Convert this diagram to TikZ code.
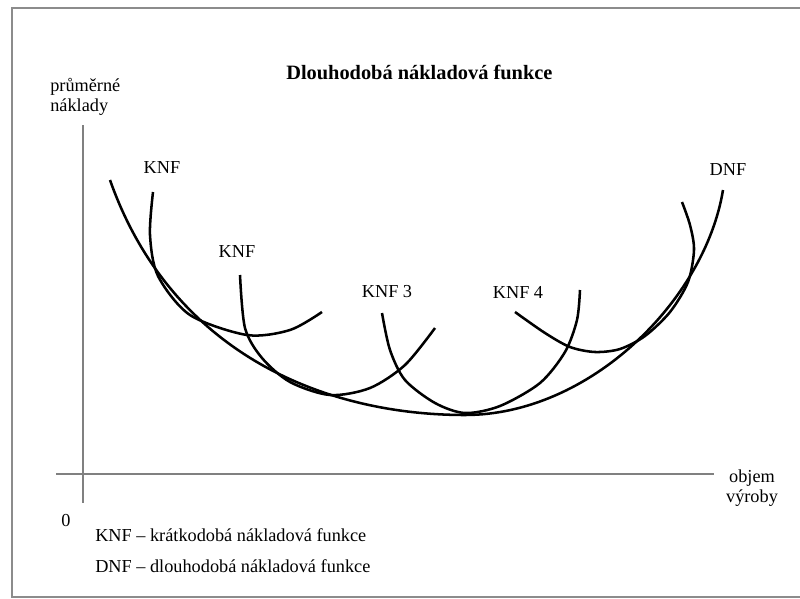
\documentclass[tikz,border=0pt]{standalone}
\usepackage{fontspec}
\setmainfont{Liberation Serif}
\usetikzlibrary{arrows.meta, positioning}

\begin{document}
\begin{tikzpicture}[x=0.25mm, y=-0.25mm, font=\fontsize{13}{14}\selectfont,
    curve/.style={line width=1.8pt},
    axis/.style={black!50, line width=1.3pt},
    lbl/.style={inner sep=0pt}]
    \useasboundingbox (0,0) rectangle (800,599);

    % frame
    \draw[black!45, line width=1.4pt] (800,8) -- (12,8) -- (12,597) -- (800,597);

    \node[lbl, font=\fontsize{14.5}{17}\selectfont\bfseries, anchor=west] (title) at (286,72) {Dlouhodobá nákladová funkce};

    % axes
    \node[lbl, anchor=north west, align=left] (ylabel) at (50,78) {průměrné\\náklady};
    \node[lbl, align=center] (xlabel) at (752,488) {objem\\výroby};
    \node[lbl] (origin) at (66,521) {0};
    \coordinate (ytop) at (83,125);
    \coordinate (ybot) at (83,503);
    \coordinate (xleft) at (56,474);
    \coordinate (xright) at (714,474);
    \draw[axis] (ytop) -- (ybot);
    \draw[axis] (xleft) -- (xright);

    % curves
    \draw[curve] (110,180) .. controls (170,350) and (320,415) .. (465,415) .. controls (590,415) and (705,300) .. (723,190);
    \draw[curve] plot[smooth] coordinates {(153,192) (150,235) (158,276) (190,315) (247,335) (290,330) (322,312)};
    \draw[curve] plot[smooth] coordinates {(240,275) (245,328) (262,358) (290,382) (330,395) (370,388) (405,365) (435,328)};
    \draw[curve] plot[smooth] coordinates {(382,313) (390,350) (405,380) (435,403) (465,413) (500,406) (540,383) (565,352) (577,320) (580,290)};
    \draw[curve] plot[smooth] coordinates {(515,312) (545,333) (570,347) (595,352) (620,349) (645,336) (670,312) (688,282) (694,250) (690,225) (682,202)};

    \node[lbl] (knfA) at (162,168) {KNF};
    \node[lbl] (knfB) at (237,252) {KNF};
    \node[lbl] (knfC) at (387,292) {KNF 3};
    \node[lbl] (knfD) at (518,292) {KNF 4};
    \node[lbl] (dnf) at (728,170) {DNF};

    % legend
    \node[lbl, anchor=west] (legKnf) at (95,535) {KNF -- krátkodobá nákladová funkce};
    \node[lbl, anchor=west] (legDnf) at (95,566) {DNF -- dlouhodobá nákladová funkce};
\end{tikzpicture}
\end{document}
